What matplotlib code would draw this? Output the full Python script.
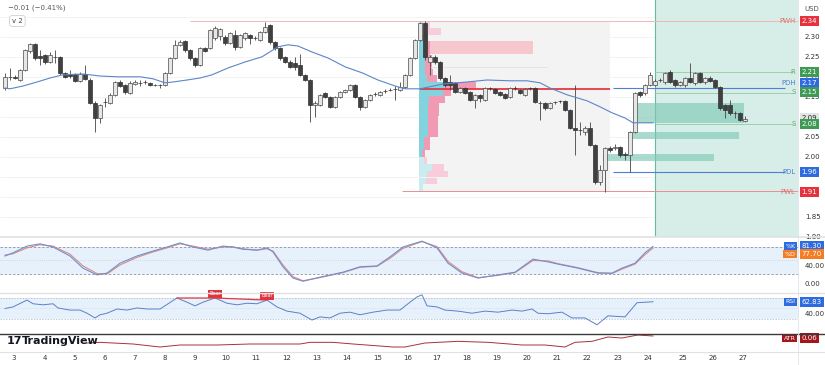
import numpy as np
import matplotlib.pyplot as plt
from matplotlib.patches import Rectangle
from matplotlib.lines import Line2D
from matplotlib.transforms import blended_transform_factory

# ---- 4H candles (price in USD) ----
opens = [2.172, 2.200, 2.200, 2.192, 2.217, 2.265, 2.282, 2.252, 2.255, 2.237,
         2.250, 2.250, 2.210, 2.207, 2.207, 2.190, 2.207, 2.192, 2.135, 2.097,
         2.137, 2.135, 2.155, 2.187, 2.180, 2.160, 2.182, 2.185, 2.187, 2.185,
         2.180, 2.180, 2.180, 2.210, 2.247, 2.280, 2.290, 2.267, 2.247, 2.230,
         2.272, 2.272, 2.297, 2.302, 2.300, 2.285, 2.305, 2.275, 2.297, 2.305,
         2.297, 2.292, 2.312, 2.330, 2.287, 2.272, 2.250, 2.237, 2.235, 2.230,
         2.205, 2.192, 2.130, 2.130, 2.160, 2.150, 2.125, 2.150, 2.162, 2.167,
         2.180, 2.150, 2.125, 2.142, 2.157, 2.155, 2.165, 2.167, 2.170, 2.167,
         2.175, 2.205, 2.247, 2.292, 2.335, 2.237, 2.250, 2.237, 2.197, 2.187,
         2.185, 2.162, 2.172, 2.162, 2.142, 2.155, 2.142, 2.172, 2.170, 2.162,
         2.157, 2.150, 2.172, 2.167, 2.155, 2.172, 2.172, 2.135, 2.135, 2.122,
         2.137, 2.140, 2.140, 2.117, 2.072, 2.067, 2.062, 2.072, 2.030, 1.937,
         1.967, 2.022, 2.022, 2.025, 2.007, 2.005, 2.062, 2.162, 2.160, 2.180,
         2.180, 2.192, 2.187, 2.212, 2.192, 2.180, 2.180, 2.197, 2.185, 2.210,
         2.187, 2.197, 2.192, 2.175, 2.130, 2.130, 2.110, 2.110, 2.090]
closes = [2.200, 2.199, 2.197, 2.217, 2.267, 2.282, 2.247, 2.247, 2.237, 2.255,
          2.249, 2.210, 2.200, 2.202, 2.190, 2.207, 2.195, 2.135, 2.097, 2.130,
          2.136, 2.155, 2.187, 2.177, 2.162, 2.185, 2.187, 2.184, 2.186, 2.180,
          2.179, 2.179, 2.210, 2.247, 2.280, 2.287, 2.267, 2.247, 2.230, 2.272,
          2.265, 2.317, 2.322, 2.320, 2.285, 2.310, 2.275, 2.305, 2.310, 2.297,
          2.296, 2.312, 2.325, 2.287, 2.272, 2.247, 2.237, 2.225, 2.225, 2.205,
          2.192, 2.130, 2.135, 2.155, 2.150, 2.125, 2.150, 2.162, 2.167, 2.180,
          2.150, 2.125, 2.142, 2.155, 2.156, 2.162, 2.164, 2.166, 2.169, 2.175,
          2.205, 2.247, 2.292, 2.335, 2.250, 2.250, 2.237, 2.197, 2.180, 2.180,
          2.162, 2.172, 2.160, 2.142, 2.155, 2.147, 2.172, 2.171, 2.160, 2.155,
          2.147, 2.172, 2.171, 2.160, 2.170, 2.171, 2.137, 2.134, 2.122, 2.135,
          2.136, 2.139, 2.117, 2.072, 2.067, 2.066, 2.072, 2.030, 1.937, 1.967,
          2.022, 2.017, 2.025, 2.005, 2.005, 2.062, 2.160, 2.155, 2.180, 2.205,
          2.190, 2.191, 2.210, 2.187, 2.180, 2.187, 2.197, 2.187, 2.210, 2.187,
          2.197, 2.190, 2.175, 2.122, 2.117, 2.110, 2.109, 2.092, 2.095]
highs = [2.210, 2.222, 2.205, 2.220, 2.270, 2.285, 2.285, 2.267, 2.257, 2.262,
         2.267, 2.252, 2.212, 2.217, 2.210, 2.212, 2.230, 2.197, 2.140, 2.132,
         2.147, 2.160, 2.190, 2.192, 2.182, 2.190, 2.192, 2.192, 2.192, 2.187,
         2.182, 2.182, 2.212, 2.250, 2.292, 2.292, 2.292, 2.270, 2.250, 2.275,
         2.275, 2.320, 2.327, 2.322, 2.305, 2.312, 2.317, 2.307, 2.312, 2.307,
         2.302, 2.315, 2.337, 2.332, 2.290, 2.275, 2.252, 2.242, 2.250, 2.257,
         2.207, 2.195, 2.140, 2.157, 2.162, 2.152, 2.152, 2.165, 2.170, 2.182,
         2.182, 2.152, 2.145, 2.157, 2.162, 2.165, 2.170, 2.172, 2.177, 2.187,
         2.207, 2.250, 2.295, 2.337, 2.340, 2.255, 2.255, 2.240, 2.200, 2.205,
         2.187, 2.175, 2.175, 2.165, 2.157, 2.157, 2.175, 2.175, 2.172, 2.165,
         2.160, 2.175, 2.177, 2.170, 2.172, 2.175, 2.175, 2.140, 2.137, 2.137,
         2.140, 2.142, 2.142, 2.120, 2.180, 2.087, 2.077, 2.087, 2.032, 1.980,
         2.025, 2.027, 2.032, 2.027, 2.012, 2.065, 2.162, 2.165, 2.182, 2.212,
         2.195, 2.197, 2.212, 2.217, 2.195, 2.190, 2.200, 2.235, 2.212, 2.212,
         2.200, 2.202, 2.195, 2.177, 2.132, 2.142, 2.115, 2.112, 2.102]
lows = [2.167, 2.192, 2.195, 2.190, 2.215, 2.260, 2.242, 2.230, 2.232, 2.235,
        2.235, 2.205, 2.197, 2.197, 2.187, 2.187, 2.192, 2.132, 2.062, 2.085,
        2.125, 2.132, 2.152, 2.175, 2.157, 2.157, 2.180, 2.177, 2.182, 2.177,
        2.177, 2.172, 2.177, 2.207, 2.245, 2.277, 2.262, 2.242, 2.225, 2.227,
        2.262, 2.270, 2.292, 2.292, 2.280, 2.282, 2.267, 2.272, 2.292, 2.282,
        2.292, 2.290, 2.310, 2.282, 2.267, 2.242, 2.235, 2.222, 2.217, 2.202,
        2.190, 2.087, 2.100, 2.127, 2.147, 2.122, 2.122, 2.147, 2.160, 2.165,
        2.147, 2.117, 2.122, 2.140, 2.152, 2.152, 2.160, 2.165, 2.142, 2.165,
        2.172, 2.202, 2.245, 2.290, 2.242, 2.205, 2.232, 2.192, 2.175, 2.167,
        2.160, 2.160, 2.157, 2.140, 2.122, 2.137, 2.140, 2.167, 2.157, 2.152,
        2.145, 2.147, 2.167, 2.157, 2.152, 2.167, 2.135, 2.092, 2.117, 2.120,
        2.132, 2.135, 2.115, 2.070, 2.005, 2.055, 2.055, 2.027, 1.932, 1.930,
        1.912, 2.012, 2.017, 2.000, 1.992, 1.962, 2.060, 2.150, 2.155, 2.177,
        2.177, 2.187, 2.182, 2.185, 2.175, 2.177, 2.175, 2.185, 2.180, 2.185,
        2.182, 2.187, 2.172, 2.117, 2.097, 2.105, 2.097, 2.090, 2.087]

# moving average (bar index, price)
ma_x = [0, 1, 3.6, 6.4, 9, 11.6, 15.6, 19, 22.4, 27, 29.6, 32, 33.6, 36.4, 39,
        41.4, 44.6, 48, 51.4, 54.6, 56.6, 58.6, 61.4, 64.6, 68, 71.4, 74.6, 78,
        80, 83, 87.6, 92.4, 96.4, 101, 104.4, 107, 109, 112.4, 116.4, 119,
        121.4, 124, 125.6, 129.6]
ma_y = [2.172, 2.170, 2.177, 2.187, 2.197, 2.205, 2.207, 2.202, 2.200, 2.200,
        2.195, 2.185, 2.187, 2.192, 2.197, 2.205, 2.222, 2.237, 2.250, 2.275,
        2.280, 2.277, 2.262, 2.247, 2.225, 2.210, 2.192, 2.177, 2.170, 2.170,
        2.182, 2.187, 2.192, 2.190, 2.190, 2.185, 2.172, 2.155, 2.140, 2.125,
        2.110, 2.097, 2.085, 2.085]

# volume profile rows (price, up volume, down volume)
vp_levels = [2.331, 2.314, 2.297, 2.280, 2.263, 2.246, 2.229, 2.212, 2.195,
             2.178, 2.161, 2.144, 2.127, 2.110, 2.093, 2.076, 2.059, 2.042,
             2.025, 2.008, 1.991, 1.974, 1.957, 1.940, 1.923]
vp_up = [1.0, 0.8, 0.8, 1.0, 1.0, 1.2, 1.2, 1.2, 1.6, 5.2, 4.8, 2.0, 1.8, 1.8,
         1.8, 1.8, 1.8, 1.0, 1.0, 0.6, 1.0, 2.6, 1.6, 1.4, 0.8]
vp_down = [1.2, 3.6, 1.0, 1.2, 1.2, 1.4, 1.4, 1.6, 2.0, 6.2, 1.6, 3.2, 2.2, 2.2,
           2.0, 2.0, 2.0, 1.2, 1.2, 0.6, 0.6, 2.4, 4.2, 2.2, 0.0]
vp_in_value_area = [False, False] + [True] * 18 + [False] * 5

# stochastic
stoch_x = [0, 1.6, 4.4, 7, 9.6, 13, 15.6, 18.4, 20.4, 23, 26.4, 29.6, 32.4, 35,
           37.6, 40.6, 43.6, 45.6, 47.6, 50.4, 52.4, 53.6, 55.6, 57.6, 59.6, 63,
           67.6, 71, 74.4, 77, 79.6, 83.4, 86.4, 88.6, 91.4, 94.6, 98.6, 102,
           105.6, 108.6, 110.6, 114.6, 118.6, 121.4, 123.4, 126, 128, 129.6]
stoch_k = [60, 67, 82, 87, 80, 60, 33, 18, 22, 44, 60, 71, 80, 89, 80, 73, 82,
           80, 75, 73, 78, 69, 36, 11, 4, 13, 24, 36, 38, 58, 80, 93, 78, 44, 22,
           11, 18, 24, 53, 47, 42, 33, 22, 22, 33, 44, 67, 81.3]
stoch_d = [62, 65, 78, 85, 82, 64, 38, 21, 20, 40, 57, 69, 78, 87, 82, 75, 80,
           80, 76, 73, 76, 71, 40, 14, 5, 12, 23, 35, 37, 55, 77, 92, 81, 48, 25,
           12, 17, 23, 50, 49, 43, 34, 23, 21, 31, 42, 63, 77.7]

# RSI
rsi_x = [0, 1.6, 4.4, 5.6, 7.6, 9.6, 10.6, 13, 15, 16.4, 18, 19, 20.4, 22.4,
         24.4, 26.4, 28.4, 31, 34.4, 36.4, 38, 39.6, 42, 44.4, 46.4, 48.4, 50.4,
         52.4, 54.4, 56.4, 59, 61.4, 63, 65, 67, 69, 71, 73.6, 76.4, 79, 81,
         82.4, 83.4, 84.4, 86.4, 88, 90.6, 93.4, 96, 98.6, 101.4, 103.4, 105.4,
         106.6, 108.6, 111.4, 113.4, 116, 118.4, 120.6, 124, 126.4, 129.6]
rsi_v = [50, 53, 66, 59, 57, 59, 51, 47, 47, 41, 32, 38, 41, 49, 47, 51, 49, 49,
         70, 62, 55, 62, 70, 60, 57, 60, 59, 66, 53, 45, 41, 28, 34, 32, 41, 43,
         38, 43, 47, 47, 62, 72, 76, 55, 53, 47, 45, 41, 45, 43, 47, 45, 49, 41,
         40, 43, 32, 32, 19, 36, 34, 61, 62.83]
bear_x = [34.4, 42, 52.4]
bear_v = [70, 70, 66]

# ATR
atr_x = [16.4, 19, 21.6, 25.6, 31, 35, 42.4, 49, 59, 61, 65.6, 69.6, 77.6, 80,
         84, 86.6, 90.6, 96.6, 103.4, 108, 112, 114, 117.4, 120.6, 123.4,
         126.6, 129.6]
atr_v = [0.051, 0.052, 0.051, 0.0495, 0.045, 0.048, 0.048, 0.0495, 0.0495,
         0.052, 0.052, 0.0495, 0.045, 0.045, 0.051, 0.052, 0.0535, 0.052, 0.048,
         0.048, 0.045, 0.052, 0.0535, 0.060, 0.0585, 0.063, 0.0615]

day_labels = [str(d) for d in range(3, 28)]
day_pos = [1.8, 8, 14, 20, 26, 32, 38, 44.2, 50.2, 56.4, 62.4, 68.4, 74.6, 80.6,
           86.4, 92.4, 98.4, 104.4, 110.4, 116.4, 122.6, 128.6, 135.6, 141.6,
           147.6]

price_ticks = [1.80, 1.85, 2.00, 2.05, 2.15, 2.20, 2.25, 2.30]
grid_levels = [1.80, 1.85, 1.90, 1.95, 2.00, 2.05, 2.10, 2.15, 2.20, 2.25, 2.30, 2.35]

pwh, pwl = 2.34, 1.915
pdh, pdl = 2.172, 1.962
r1, s1, s2 = 2.212, 2.159, 2.082
poc = 2.169

# ---- figure ----
W, H = 825, 365
RIGHT = 798
fig = plt.figure(figsize=(W / 100, H / 100), dpi=100)
fig.patch.set_facecolor('white')


def panel(top, bottom):
    ax = fig.add_axes([0, 1 - bottom / H, RIGHT / W, (bottom - top) / H])
    for s in ax.spines.values():
        s.set_visible(False)
    ax.set_xlim(-1, 158.6)
    ax.set_xticks([])
    ax.yaxis.tick_right()
    ax.tick_params(axis='y', length=0, pad=5, labelsize=5, labelcolor='#333333')
    return ax


def value_tag(ax, y, text, fc, tag=None, tag_color=None, tag_box=False, tc='white'):
    tr = blended_transform_factory(ax.transAxes, ax.transData)
    ax.text(1.0045, y, text, transform=tr, ha='left', va='center', fontsize=5,
            color=tc, clip_on=False, zorder=20,
            bbox=dict(boxstyle='square,pad=0.3', fc=fc, ec='none'))
    if tag:
        if tag_box:
            ax.text(0.997, y, tag, transform=tr, ha='right', va='center',
                    fontsize=4.5, color='white', clip_on=False, zorder=20,
                    bbox=dict(boxstyle='square,pad=0.25', fc=tag_color, ec='none'))
        else:
            ax.text(0.997, y, tag, transform=tr, ha='right', va='center',
                    fontsize=5, color=tag_color, clip_on=False, zorder=20)


x = np.arange(len(opens))
o = np.array(opens)
c = np.array(closes)

# main price panel
ax = panel(0, 237)
ax.set_ylim(1.7995, 2.392)
ax.set_yticks(price_ticks)
ax.set_yticklabels([f'{v:.2f}' for v in price_ticks])
ax.hlines(grid_levels, -1, 158.6, color='#f1f1f1', lw=0.6, zorder=0.1)

ax.axvspan(130, 158.6, color='#d6eee7', zorder=0.5, lw=0)
ax.axvline(130, color='#63bba2', lw=0.8, zorder=0.6)
ax.add_patch(Rectangle((82.8, pwl), 121 - 82.8, pwh - pwl, fc='#f3f3f3',
                       ec='none', zorder=0.4))

# volume profile
up_col = ['#82d3dd' if v else '#c9ecf0' for v in vp_in_value_area]
dn_col = ['#f09ab4' if v else '#f7cddb' for v in vp_in_value_area]
ax.barh(vp_levels, vp_up, left=82.8, height=0.0165, color=up_col, zorder=1)
ax.barh(vp_levels, vp_down, left=82.8 + np.array(vp_up), height=0.0165,
        color=dn_col, zorder=1)

# zones
ax.add_patch(Rectangle((85, 2.257), 20.6, 0.0325, fc='#f7c3ca', ec='none',
                       alpha=0.9, zorder=1.2))
for x0, x1, y0, y1 in [(125.6, 147.8, 2.0845, 2.134), (124.6, 146.8, 2.044, 2.062),
                       (119.6, 141.8, 1.9895, 2.007)]:
    ax.add_patch(Rectangle((x0, y0), x1 - x0, y1 - y0, fc='#7fc8b5', ec='none',
                           alpha=0.65, zorder=1.3))

# levels
ax.hlines(2.225, 85, 108.4, color='#e4e4e4', lw=0.7, zorder=1.4)
ax.hlines(pwh, 37, 158.6, color='#f3b7b7', lw=0.7, zorder=1.5)
ax.hlines(pwl, 79.4, 158.6, color='#e88f8f', lw=0.7, zorder=1.5)
ax.hlines([pdh, pdl], 121.6, 156, color='#4d7fd6', lw=0.8, zorder=1.5)
ax.hlines([r1, s1, s2], 130, 157.6, color='#9fcfae', lw=0.7, zorder=1.5)
ax.hlines(poc, 83, 121, color='#e23a42', lw=1.3, zorder=2)

# candles
up = c >= o
ax.vlines(x, lows, highs, color='#444444', lw=0.6, zorder=3)
ax.bar(x[up], np.maximum(c - o, 0.0008)[up], bottom=o[up], width=0.75,
       color='#e6e6e6', edgecolor='#4a4a4a', lw=0.5, zorder=4)
ax.bar(x[~up], np.maximum(o - c, 0.0008)[~up], bottom=c[~up], width=0.75,
       color='#404040', edgecolor='#333333', lw=0.5, zorder=4)

ax.plot(ma_x, ma_y, color='#5b86c9', lw=0.8, zorder=5)

value_tag(ax, pwh, '2.34', '#e5323e', 'PWH', '#e07070')
value_tag(ax, r1, '2.21', '#3f9a55', 'R', '#6aa874')
value_tag(ax, 2.185, '2.17', '#2f6be0', 'PDH', '#4d7fd6')
value_tag(ax, 2.162, '2.15', '#3f9a55', 'S', '#6aa874')
value_tag(ax, 2.097, '2.09', '#e3e3e3', tc='#222222')
value_tag(ax, s2, '2.08', '#3f9a55', 'S', '#6aa874')
value_tag(ax, pdl, '1.96', '#2f6be0', 'PDL', '#4d7fd6')
value_tag(ax, 1.912, '1.91', '#e5323e', 'PWL', '#e07070')
ax.text(1.0175, 0.963, 'USD', transform=ax.transAxes, fontsize=5, color='#555555',
        ha='center', va='center')

fig.text(8 / W, 1 - 8 / H, '\u22120.01 (\u22120.41%)', fontsize=5, color='#555555',
         va='center')
fig.text(12 / W, 1 - 21 / H, 'v 2', fontsize=5, color='#444444', va='center',
         bbox=dict(boxstyle='round,pad=0.35', fc='white', ec='#d0d0d0', lw=0.6))

# stochastic panel
ax2 = panel(237, 293)
ax2.set_ylim(-22.2, 102.2)
ax2.set_yticks([0, 40])
ax2.set_yticklabels(['0.00', '40.00'])
ax2.axhspan(20, 80, color='#e6f1fb', lw=0, zorder=0)
ax2.axhline(80, color='#8a96a6', lw=0.6, ls=(0, (3, 2)))
ax2.axhline(20, color='#8a96a6', lw=0.6, ls=(0, (3, 2)))
ax2.axhline(50, color='#b8c2cf', lw=0.5, ls=(0, (1, 2)))
ax2.plot(stoch_x, stoch_d, color='#e08a80', lw=0.8)
ax2.plot(stoch_x, stoch_k, color='#6f8fcf', lw=0.8)
value_tag(ax2, 81.3, '81.30', '#2f6be0', '%K', '#2f6be0', True)
value_tag(ax2, 64, '77.70', '#f57d23', '%D', '#f57d23', True)

# RSI panel
ax3 = panel(293, 334)
ax3.set_ylim(1.4, 79.5)
ax3.set_yticks([40])
ax3.set_yticklabels(['40.00'])
ax3.axhspan(30, 70, color='#e6f1fb', lw=0, zorder=0)
ax3.axhline(70, color='#a9b4c2', lw=0.5, ls=(0, (2, 2)))
ax3.axhline(30, color='#a9b4c2', lw=0.5, ls=(0, (2, 2)))
ax3.axhline(50, color='#c5ced9', lw=0.5, ls=(0, (1, 2)))
ax3.plot(rsi_x, rsi_v, color='#5b7fc9', lw=0.7)
ax3.plot(bear_x, bear_v, color='#e23a42', lw=0.9)
for bx, by in [(42, 78), (52.4, 74)]:
    ax3.text(bx, by, 'Bear', fontsize=3.5, color='white', ha='center', va='center',
             bbox=dict(boxstyle='square,pad=0.3', fc='#e0343f', ec='none'), zorder=6)
value_tag(ax3, 62.83, '62.83', '#2f6be0', 'RSI', '#2f6be0', True)

# ATR panel
ax4 = panel(334, 352)
ax4.set_ylim(0.0375, 0.0645)
ax4.set_yticks([])
ax4.plot(atr_x, atr_v, color='#a8323a', lw=0.7)
value_tag(ax4, 0.0585, '0.06', '#a3161c', 'ATR', '#a3161c', True)
ax4.set_xticks(day_pos)
ax4.set_xticklabels(day_labels)
ax4.tick_params(axis='x', length=0, pad=2, labelsize=5, labelcolor='#333333')

fig.text(7 / W, 1 - 341 / H, '17', fontsize=8, fontweight='heavy', color='#131722',
         va='center')
fig.text(22 / W, 1 - 341 / H, 'TradingView', fontsize=8, fontweight='semibold',
         color='#131722', va='center')

# separators
for yy, col, lw in [(237, '#e2e2e2', 1.2), (293, '#e2e2e2', 1.0), (334, '#3a3a3a', 1.0),
                    (352, '#e2e2e2', 0.8)]:
    fig.add_artist(Line2D([0, 1], [1 - yy / H] * 2, transform=fig.transFigure,
                          color=col, lw=lw))
fig.add_artist(Line2D([RIGHT / W] * 2, [0, 1], transform=fig.transFigure,
                      color='#e0e3eb', lw=0.6))

fig.savefig('out.png', dpi=100, facecolor='white')
